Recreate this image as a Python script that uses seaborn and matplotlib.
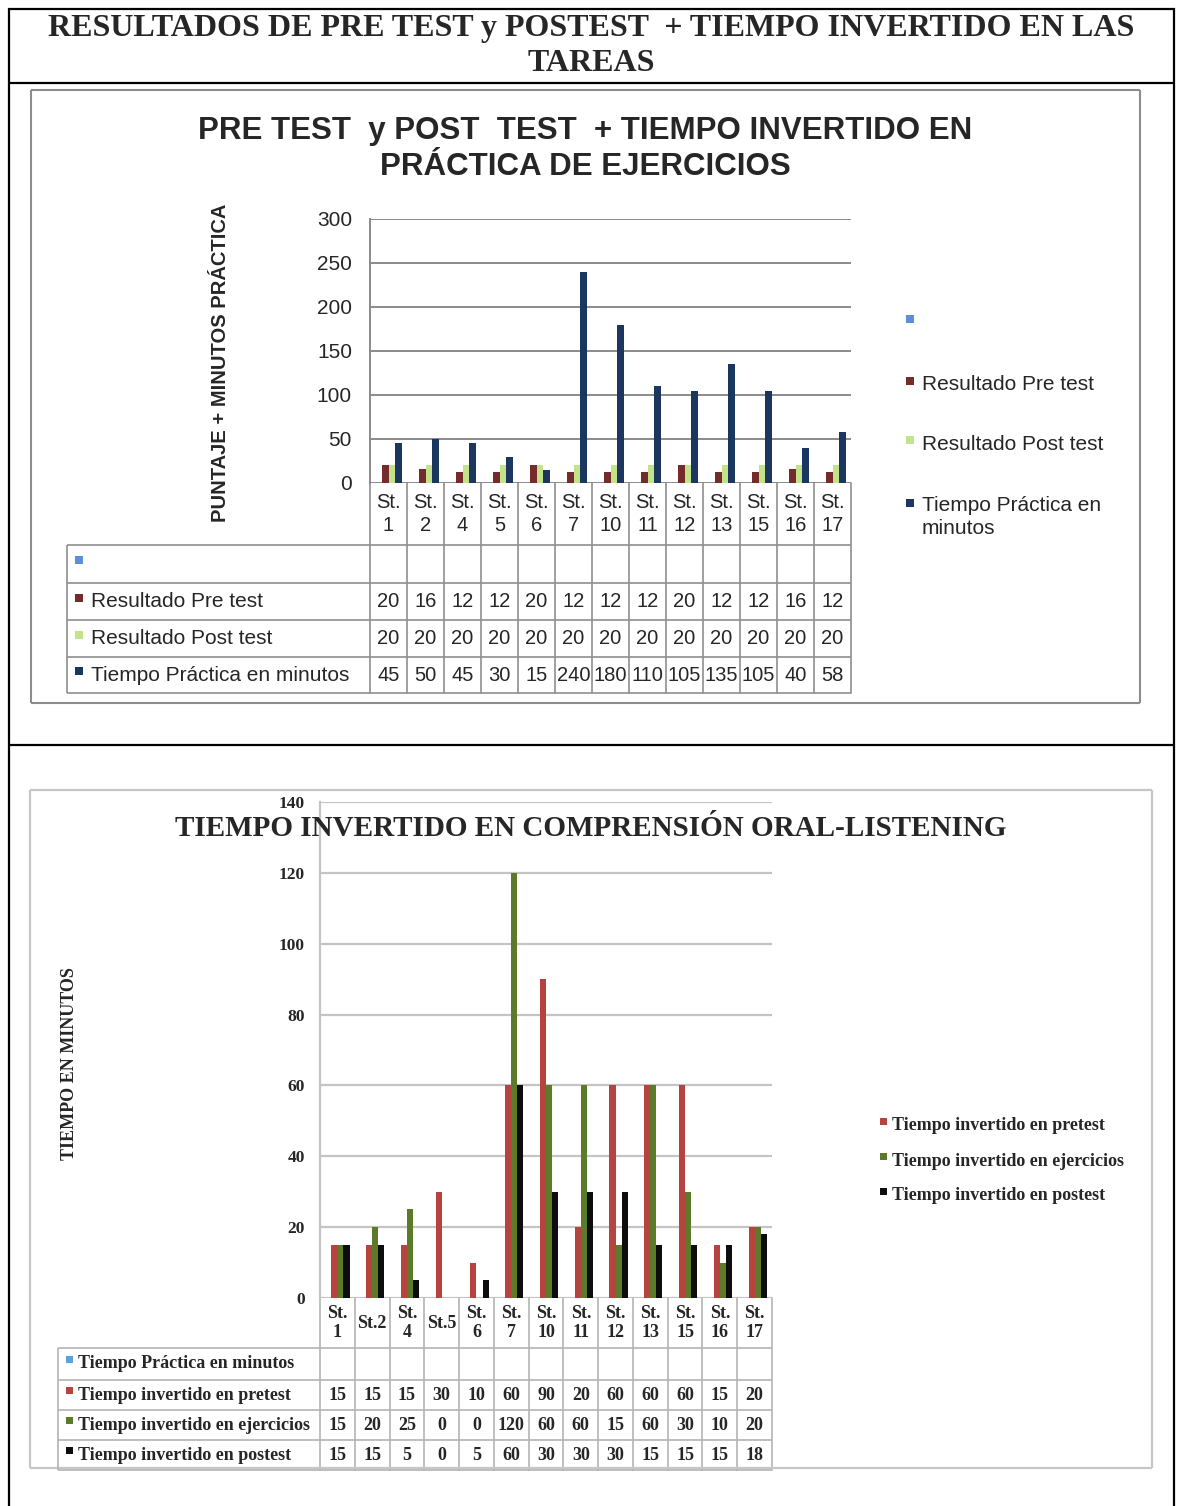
import numpy as np
import pandas as pd
import seaborn as sns
import matplotlib
matplotlib.use("Agg")
import matplotlib.pyplot as plt
from matplotlib.patches import Rectangle
from matplotlib.lines import Line2D
from matplotlib.transforms import blended_transform_factory

sns.set_style("white")
SANS = ["Liberation Sans", "DejaVu Sans"]
SERIF = ["Liberation Serif", "DejaVu Serif"]
plt.rcParams["font.family"] = SANS

W, H, DPI = 1177, 1506, 100

# ---------------- data: scores + practice time ----------------
students_a = ["St.\n1", "St.\n2", "St.\n4", "St.\n5", "St.\n6", "St.\n7", "St.\n10",
              "St.\n11", "St.\n12", "St.\n13", "St.\n15", "St.\n16", "St.\n17"]
series_a = ["", "Resultado Pre test", "Resultado Post test", "Tiempo Práctica en minutos"]
empty_a = [np.nan] * 13
pretest_score = [20, 16, 12, 12, 20, 12, 12, 12, 20, 12, 12, 16, 12]
posttest_score = [20, 20, 20, 20, 20, 20, 20, 20, 20, 20, 20, 20, 20]
practice_minutes = [45, 50, 45, 30, 15, 240, 180, 110, 105, 135, 105, 40, 58]
colors_a = ["#5B8FD9", "#742B2B", "#C3E38A", "#1C375F"]

# ---------------- data: listening time ----------------
students_b = ["St.\n1", "St.2", "St.\n4", "St.5", "St.\n6", "St.\n7", "St.\n10",
              "St.\n11", "St.\n12", "St.\n13", "St.\n15", "St.\n16", "St.\n17"]
series_b = ["Tiempo Práctica en minutos", "Tiempo invertido en pretest",
            "Tiempo invertido en ejercicios", "Tiempo invertido en postest"]
empty_b = [np.nan] * 13
pretest_minutes = [15, 15, 15, 30, 10, 60, 90, 20, 60, 60, 60, 15, 20]
exercise_minutes = [15, 20, 25, 0, 0, 120, 60, 60, 15, 60, 30, 10, 20]
posttest_minutes = [15, 15, 5, 0, 5, 60, 30, 30, 30, 15, 15, 15, 18]
colors_b = ["#5AA3DC", "#B7433E", "#5B7B2A", "#0D0D0D"]


def fx(px):
    return px / W


def fy(py):
    return 1 - py / H


def long_frame(cats, names, values):
    rows = []
    for name, vals in zip(names, values):
        for c, v in zip(cats, vals):
            rows.append({"student": c, "series": name, "value": v})
    return pd.DataFrame(rows)


fig = plt.figure(figsize=(W / DPI, H / DPI), dpi=DPI)
fig.patch.set_facecolor("white")


def fig_line(x0, y0, x1, y1, color, lw):
    fig.add_artist(Line2D([fx(x0), fx(x1)], [fy(y0), fy(y1)], transform=fig.transFigure,
                          color=color, lw=lw, solid_capstyle="butt"))


def fig_box(x0, y0, x1, y1, color, lw):
    fig_line(x0, y0, x1, y0, color, lw)
    fig_line(x0, y1, x1, y1, color, lw)
    fig_line(x0, y0, x0, y1, color, lw)
    fig_line(x1, y0, x1, y1, color, lw)


def fig_square(x, y, size, color):
    fig.add_artist(Rectangle((fx(x), fy(y + size)), size / W, size / H,
                             transform=fig.transFigure, facecolor=color, edgecolor="none"))


# page frame
fig_line(9, 8, 9, 1506, "black", 1.6)
fig_line(1174, 8, 1174, 1506, "black", 1.6)
fig_line(8, 9, 1175, 9, "black", 1.6)
fig_line(8, 83, 1175, 83, "black", 1.6)
fig_line(8, 745, 1175, 745, "black", 1.6)

fig.text(fx(591), fy(46), "RESULTADOS DE PRE TEST y POSTEST  + TIEMPO INVERTIDO EN LAS\nTAREAS",
         ha="center", va="center", family=SERIF, fontweight="bold", fontsize=23, linespacing=1.25)

# chart panels
fig_box(31, 90, 1140, 703, "#8C8C8C", 1.5)
fig_box(30, 790, 1152, 1468, "#C6C6C6", 1.6)


def draw_table(ax, cats, left_px, top_px, head_bot, row_lines, right_px, rows, line_color,
               head_font, head_size, head_ls, val_font, val_size, val_weight):
    tr = blended_transform_factory(ax.transData, fig.transFigure)
    n = len(cats)
    bottom_px = row_lines[-1]
    for i in range(n + 1):
        ax.add_artist(Line2D([i - 0.5, i - 0.5], [fy(top_px), fy(bottom_px)], transform=tr,
                             color=line_color, lw=1.2, clip_on=False))
    for yy in [head_bot] + list(row_lines[1:]):
        fig_line(left_px, yy, right_px, yy, line_color, 1.2)
    fig_line(left_px, head_bot, left_px, bottom_px, line_color, 1.2)
    for i, c in enumerate(cats):
        ax.text(i, fy((top_px + head_bot) / 2), c, transform=tr, ha="center", va="center",
                family=head_font, fontsize=head_size, linespacing=head_ls, fontweight=val_weight,
                clip_on=False)
    for r, vals in enumerate(rows):
        yc = (row_lines[r] + row_lines[r + 1]) / 2
        for i, v in enumerate(vals):
            if np.isnan(v):
                continue
            ax.text(i, fy(yc), f"{v:g}", transform=tr, ha="center", va="center",
                    family=val_font, fontsize=val_size, fontweight=val_weight, clip_on=False)


# ================= chart 1 =================
ax1 = fig.add_axes([fx(370), fy(483), (851 - 370) / W, (483 - 219) / H])
df_a = long_frame(students_a, series_a, [empty_a, pretest_score, posttest_score, practice_minutes])
sns.barplot(data=df_a, x="student", y="value", hue="series", hue_order=series_a,
            order=students_a, palette=colors_a, width=0.72, saturation=1, errorbar=None,
            linewidth=0, legend=False, ax=ax1)
ax1.set_xlim(-0.5, 12.5)
ax1.set_ylim(0, 300)
ax1.set_yticks(range(0, 301, 50))
ax1.yaxis.grid(True, color="#8A8A8A", lw=1.4)
ax1.set_axisbelow(True)
for s in ["top", "right", "bottom"]:
    ax1.spines[s].set_visible(False)
ax1.spines["left"].set_color("#8A8A8A")
ax1.spines["left"].set_linewidth(1.4)
ax1.tick_params(axis="y", direction="out", length=5, width=1.4, color="#8A8A8A", pad=8,
                labelsize=15)
ax1.tick_params(axis="x", length=0, labelbottom=False)
for lab in ax1.get_yticklabels():
    lab.set_family(SANS)
ax1.set_xlabel("")
ax1.set_ylabel("")
ax1.set_facecolor("white")

fig.text(fx(221), fy(363), "PUNTAJE + MINUTOS PRÁCTICA", rotation=90, ha="center",
         va="center", fontweight="bold", fontsize=14.5, family=SANS)
fig.text(fx(585), fy(149), "PRE TEST  y POST  TEST  + TIEMPO INVERTIDO EN\nPRÁCTICA DE EJERCICIOS",
         ha="center", va="center", fontweight="bold", fontsize=22.5, family=SANS, linespacing=1.25)

draw_table(ax1, students_a, 67, 483, 545, [545, 583, 620, 657, 693], 851,
           [empty_a, pretest_score, posttest_score, practice_minutes], "#8F8F8F",
           SANS, 14.5, 1.3, SANS, 14.5, "normal")
row_mid_a = [564, 601.5, 638.5, 675]
for name, col, yc in zip(series_a, colors_a, row_mid_a):
    fig_square(75, yc - 8, 8, col)
    fig.text(fx(91), fy(yc), name, ha="left", va="center", fontsize=15, family=SANS)

# legend 1
legend_a_y = [323, 385, 444, 517]
for name, col, yc in zip(series_a, colors_a, legend_a_y):
    sq_y = yc - 8 if yc != 517 else 499
    fig_square(906, sq_y, 8, col)
    fig.text(fx(922), fy(yc), name.replace("en minutos", "en\nminutos"), ha="left",
             va="center", fontsize=15, family=SANS, linespacing=1.3)

# ================= chart 2 =================
ax2 = fig.add_axes([fx(320), fy(1298), (772 - 320) / W, (1298 - 802) / H])
df_b = long_frame(students_b, series_b, [empty_b, pretest_minutes, exercise_minutes, posttest_minutes])
sns.barplot(data=df_b, x="student", y="value", hue="series", hue_order=series_b,
            order=students_b, palette=colors_b, width=0.7, saturation=1, errorbar=None,
            linewidth=0, legend=False, ax=ax2)
ax2.set_xlim(-0.5, 12.5)
ax2.set_ylim(0, 140)
ax2.set_yticks(range(0, 141, 20))
ax2.yaxis.grid(True, color="#C4C4C4", lw=1.6)
ax2.set_axisbelow(True)
for s in ["top", "right", "bottom"]:
    ax2.spines[s].set_visible(False)
ax2.spines["left"].set_color("#C4C4C4")
ax2.spines["left"].set_linewidth(1.6)
ax2.tick_params(axis="y", direction="out", length=5, width=1.6, color="#C4C4C4", pad=6,
                labelsize=12.5)
ax2.tick_params(axis="x", length=0, labelbottom=False)
for lab in ax2.get_yticklabels():
    lab.set_family(SERIF)
    lab.set_fontweight("bold")
ax2.set_xlabel("")
ax2.set_ylabel("")
ax2.set_facecolor("none")

fig.text(fx(591), fy(829), "TIEMPO INVERTIDO EN COMPRENSIÓN ORAL-LISTENING", ha="center",
         va="center", fontweight="bold", fontsize=21, family=SERIF)
fig.text(fx(70), fy(1064), "TIEMPO EN MINUTOS", rotation=90, ha="center", va="center",
         fontweight="bold", fontsize=13, family=SERIF)

draw_table(ax2, students_b, 58, 1298, 1348, [1348, 1380, 1410, 1440, 1470], 772,
           [empty_b, pretest_minutes, exercise_minutes, posttest_minutes], "#B4B4B4",
           SERIF, 13, 1.15, SERIF, 13, "bold")
row_mid_b = [1364, 1395, 1425, 1455]
for name, col, yc in zip(series_b, colors_b, row_mid_b):
    fig_square(66, yc - 8, 7, col)
    fig.text(fx(78), fy(yc), name, ha="left", va="center", fontsize=13, family=SERIF,
             fontweight="bold")

# legend 2
legend_b_y = [1126, 1161, 1196]
for name, col, yc in zip(series_b[1:], colors_b[1:], legend_b_y):
    fig_square(880, yc - 8, 7, col)
    fig.text(fx(892), fy(yc), name, ha="left", va="center", fontsize=13, family=SERIF,
             fontweight="bold")

fig.savefig("out.png", dpi=DPI, facecolor="white")
